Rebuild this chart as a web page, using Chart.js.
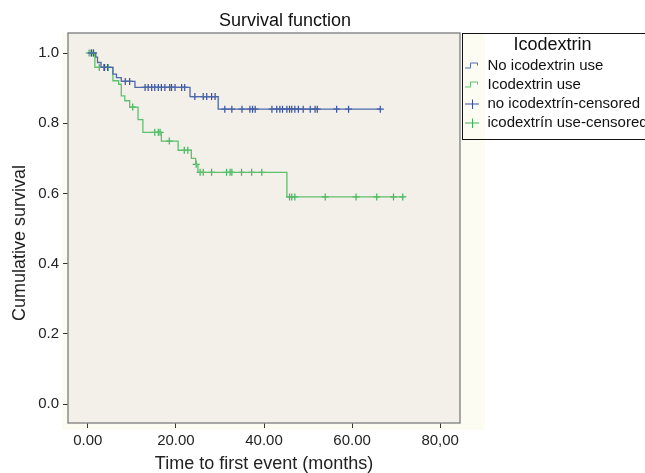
<!DOCTYPE html>
<html>
<head>
<meta charset="utf-8">
<script src="https://cdn.jsdelivr.net/npm/chart.js@4.4.1/dist/chart.umd.min.js"></script>
<style>
  html, body { margin: 0; padding: 0; background: #fff; }
  #wrap { width: 645px; height: 473px; }
</style>
</head>
<body>
<div id="wrap"><canvas id="kmChart" width="645" height="473"></canvas></div>
<script>
// Kaplan-Meier: time to first event, by icodextrin use
const noIcoTimes = [0, 1.8, 2.2, 3.0, 5.7, 6.5, 7.6, 10.7, 23.2, 29.6, 66.4];
const noIcoSurv = [1.0, 0.988, 0.973, 0.959, 0.94, 0.93, 0.919, 0.902, 0.876, 0.84, 0.84];

const icoTimes = [0, 1.6, 5.7, 7.0, 7.6, 8.4, 9.5, 11.4, 12.5, 16.7, 20.5, 23.5, 24.5, 25.0, 45.2, 71.5];
const icoSurv = [1.0, 0.959, 0.921, 0.911, 0.878, 0.864, 0.846, 0.81, 0.774, 0.749, 0.723, 0.70, 0.683, 0.66, 0.59, 0.59];

const noIcoCensTimes = [0.8, 1.3, 3.8, 4.5, 8.5, 9.5,
  13, 13.7, 14.5, 15.2, 16, 16.7, 17.5, 18.6, 19, 19.8, 21.3, 22,
  24.3, 26.2, 27, 28.1, 28.9,
  31.1, 32.7, 35, 36.8, 37.4, 38, 41.8, 42.9, 43.6, 44.2, 45.2, 45.8, 46.3, 47, 47.8, 48.9, 50.5, 51.6, 52.1, 56.5, 59.2, 66.4];
const noIcoCensSurv = [1.0, 1.0, 0.959, 0.959, 0.919, 0.919,
  0.902, 0.902, 0.902, 0.902, 0.902, 0.902, 0.902, 0.902, 0.902, 0.902, 0.902, 0.902,
  0.876, 0.876, 0.876, 0.876, 0.876,
  0.84, 0.84, 0.84, 0.84, 0.84, 0.84, 0.84, 0.84, 0.84, 0.84, 0.84, 0.84, 0.84, 0.84, 0.84, 0.84, 0.84, 0.84, 0.84, 0.84, 0.84, 0.84];

const icoCensTimes = [0.3, 0.8, 1.2, 2.6, 3.6, 4.6, 10.2, 15.2, 16.0, 16.4, 18.5, 21.9, 22.7, 24.6,
  25.5, 26.2, 28.1, 31.5, 32.3, 32.7, 34.9, 37.2, 39.5,
  45.8, 46.3, 47, 53.9, 60.9, 65.6, 69.4, 71.5];
const icoCensSurv = [1.0, 1.0, 1.0, 0.959, 0.959, 0.959, 0.846, 0.774, 0.774, 0.774, 0.749, 0.723, 0.723, 0.683,
  0.66, 0.66, 0.66, 0.66, 0.66, 0.66, 0.66, 0.66, 0.66,
  0.59, 0.59, 0.59, 0.59, 0.59, 0.59, 0.59, 0.59];

const seriesLabels = ["No icodextrin use", "Icodextrin use", "no icodextrín-censored", "icodextrín use-censored"];
const xTickValues = [0, 20, 40, 60, 80];
const xTickLabels = ["0.00", "20.00", "40.00", "60.00", "80,00"];
const yTickValues = [0, 0.2, 0.4, 0.6, 0.8, 1.0];
const yTickLabels = ["0.0", "0.2", "0.4", "0.6", "0.8", "1.0"];

const BLUE = "#4e68ac";
const GREEN = "#5fc06e";
const BLUE_MARK = "#34509e";
const GREEN_MARK = "#3fb35c";
const FONT = "'Liberation Sans', Arial, sans-serif";

const toPoints = (xs, ys) => xs.map((x, i) => ({ x: x, y: ys[i] }));

// small legend icons
function stepIcon(color) {
  const c = document.createElement("canvas");
  c.width = 16; c.height = 10;
  const g = c.getContext("2d");
  g.strokeStyle = color; g.lineWidth = 1;
  g.beginPath();
  g.moveTo(1, 7.5); g.lineTo(6.5, 7.5); g.lineTo(6.5, 2.5); g.lineTo(13.5, 2.5); g.lineTo(13.5, 5);
  g.stroke();
  return c;
}
function crossIcon(color) {
  const c = document.createElement("canvas");
  c.width = 16; c.height = 10;
  const g = c.getContext("2d");
  g.strokeStyle = color; g.lineWidth = 1;
  g.beginPath();
  g.moveTo(1, 5.5); g.lineTo(15, 5.5);
  g.moveTo(8.5, 1); g.lineTo(8.5, 10);
  g.stroke();
  return c;
}
const legendIcons = [stepIcon(BLUE), stepIcon(GREEN), crossIcon(BLUE_MARK), crossIcon(GREEN_MARK)];

const plotDecor = {
  id: "plotDecor",
  beforeDraw(chart) {
    const { ctx, chartArea: a } = chart;
    ctx.save();
    ctx.fillStyle = "#fdfcf3";
    ctx.fillRect(a.left - 6, a.top, a.right - a.left + 31, a.bottom - a.top + 7);
    ctx.fillStyle = "#f3f0e9";
    ctx.fillRect(a.left, a.top, a.right - a.left, a.bottom - a.top);
    ctx.restore();
  },
  afterDraw(chart) {
    const { ctx, chartArea: a, legend } = chart;
    ctx.save();
    ctx.strokeStyle = "#8c8c8c";
    ctx.lineWidth = 1.5;
    ctx.strokeRect(a.left, a.top, a.right - a.left, a.bottom - a.top);
    // box round the legend
    const boxes = legend.legendHitBoxes;
    const last = boxes[boxes.length - 1];
    const bottom = last.top + last.height + 9;
    ctx.strokeStyle = "#111";
    ctx.lineWidth = 1;
    ctx.strokeRect(legend.left + 2.5, a.top + 0.5, legend.width + 10, bottom - a.top);
    // chart title and y axis title
    ctx.fillStyle = "#111";
    ctx.font = "18px " + FONT;
    ctx.textAlign = "center";
    ctx.textBaseline = "middle";
    ctx.fillText("Survival function", 285, 21);
    ctx.translate(20, 243);
    ctx.rotate(-Math.PI / 2);
    ctx.fillStyle = "#222";
    ctx.fillText("Cumulative survival", 0, 0);
    ctx.restore();
  }
};

const ctx = document.getElementById("kmChart").getContext("2d");

new Chart(ctx, {
  type: "line",
  data: {
    datasets: [
      {
        label: seriesLabels[0],
        data: toPoints(noIcoTimes, noIcoSurv),
        borderColor: BLUE,
        borderWidth: 1.3,
        stepped: "before",
        pointRadius: 0,
        fill: false,
      },
      {
        label: seriesLabels[1],
        data: toPoints(icoTimes, icoSurv),
        borderColor: GREEN,
        borderWidth: 1.3,
        stepped: "before",
        pointRadius: 0,
        fill: false,
      },
      {
        label: seriesLabels[2],
        data: toPoints(noIcoCensTimes, noIcoCensSurv),
        showLine: false,
        pointStyle: "cross",
        pointRadius: 3.5,
        pointBorderWidth: 1.2,
        borderColor: BLUE_MARK,
        backgroundColor: BLUE_MARK,
      },
      {
        label: seriesLabels[3],
        data: toPoints(icoCensTimes, icoCensSurv),
        showLine: false,
        pointStyle: "cross",
        pointRadius: 3.5,
        pointBorderWidth: 1.2,
        borderColor: GREEN_MARK,
        backgroundColor: GREEN_MARK,
      },
    ],
  },
  options: {
    responsive: false,
    animation: false,
    layout: { padding: { left: 0, right: 0, top: 33, bottom: 0 } },
    scales: {
      x: {
        type: "linear",
        min: -4.5,
        max: 84.5,
        afterBuildTicks: (scale) => {
          scale.ticks = xTickValues.map((v) => ({ value: v }));
        },
        afterFit: (scale) => {
          scale.height = 50;
        },
        ticks: {
          color: "#222",
          font: { family: FONT, size: 15 },
          padding: 4,
          maxRotation: 0,
          callback: (value) => xTickLabels[xTickValues.indexOf(value)],
        },
        grid: { drawOnChartArea: false, drawTicks: true, tickLength: 5, color: "#333" },
        border: { display: false },
        title: {
          display: true,
          text: "Time to first event (months)",
          color: "#222",
          font: { family: FONT, size: 18, lineHeight: 1.0 },
          padding: { top: 0, bottom: 0 },
        },
      },
      y: {
        type: "linear",
        min: -0.054,
        max: 1.057,
        afterBuildTicks: (scale) => {
          scale.ticks = yTickValues.map((v) => ({ value: v }));
        },
        afterFit: (scale) => {
          scale.width = 68;
        },
        ticks: {
          color: "#222",
          font: { family: FONT, size: 15 },
          padding: 4,
          callback: (value) => yTickLabels[yTickValues.indexOf(value)],
        },
        grid: { drawOnChartArea: false, drawTicks: true, tickLength: 5, color: "#333" },
        border: { display: false },
        title: { display: false },
      },
    },
    plugins: {
      title: { display: false },
      legend: {
        position: "right",
        align: "start",
        maxWidth: 185,
        title: {
          display: true,
          text: "Icodextrin",
          color: "#111",
          font: { family: FONT, size: 18, lineHeight: 1.0 },
          padding: { top: 3, bottom: 0 },
        },
        labels: {
          color: "#111",
          font: { family: FONT, size: 15, lineHeight: 1.0 },
          usePointStyle: true,
          pointStyleWidth: 16,
          boxHeight: 10,
          padding: 4,
          generateLabels: (chart) =>
            seriesLabels.map((text, i) => ({
              text: text,
              fontColor: "#111",
              pointStyle: legendIcons[i],
              datasetIndex: i,
              lineWidth: 0,
              hidden: false,
            })),
        },
      },
      tooltip: { enabled: false },
    },
  },
  plugins: [plotDecor],
});
</script>
</body>
</html>
